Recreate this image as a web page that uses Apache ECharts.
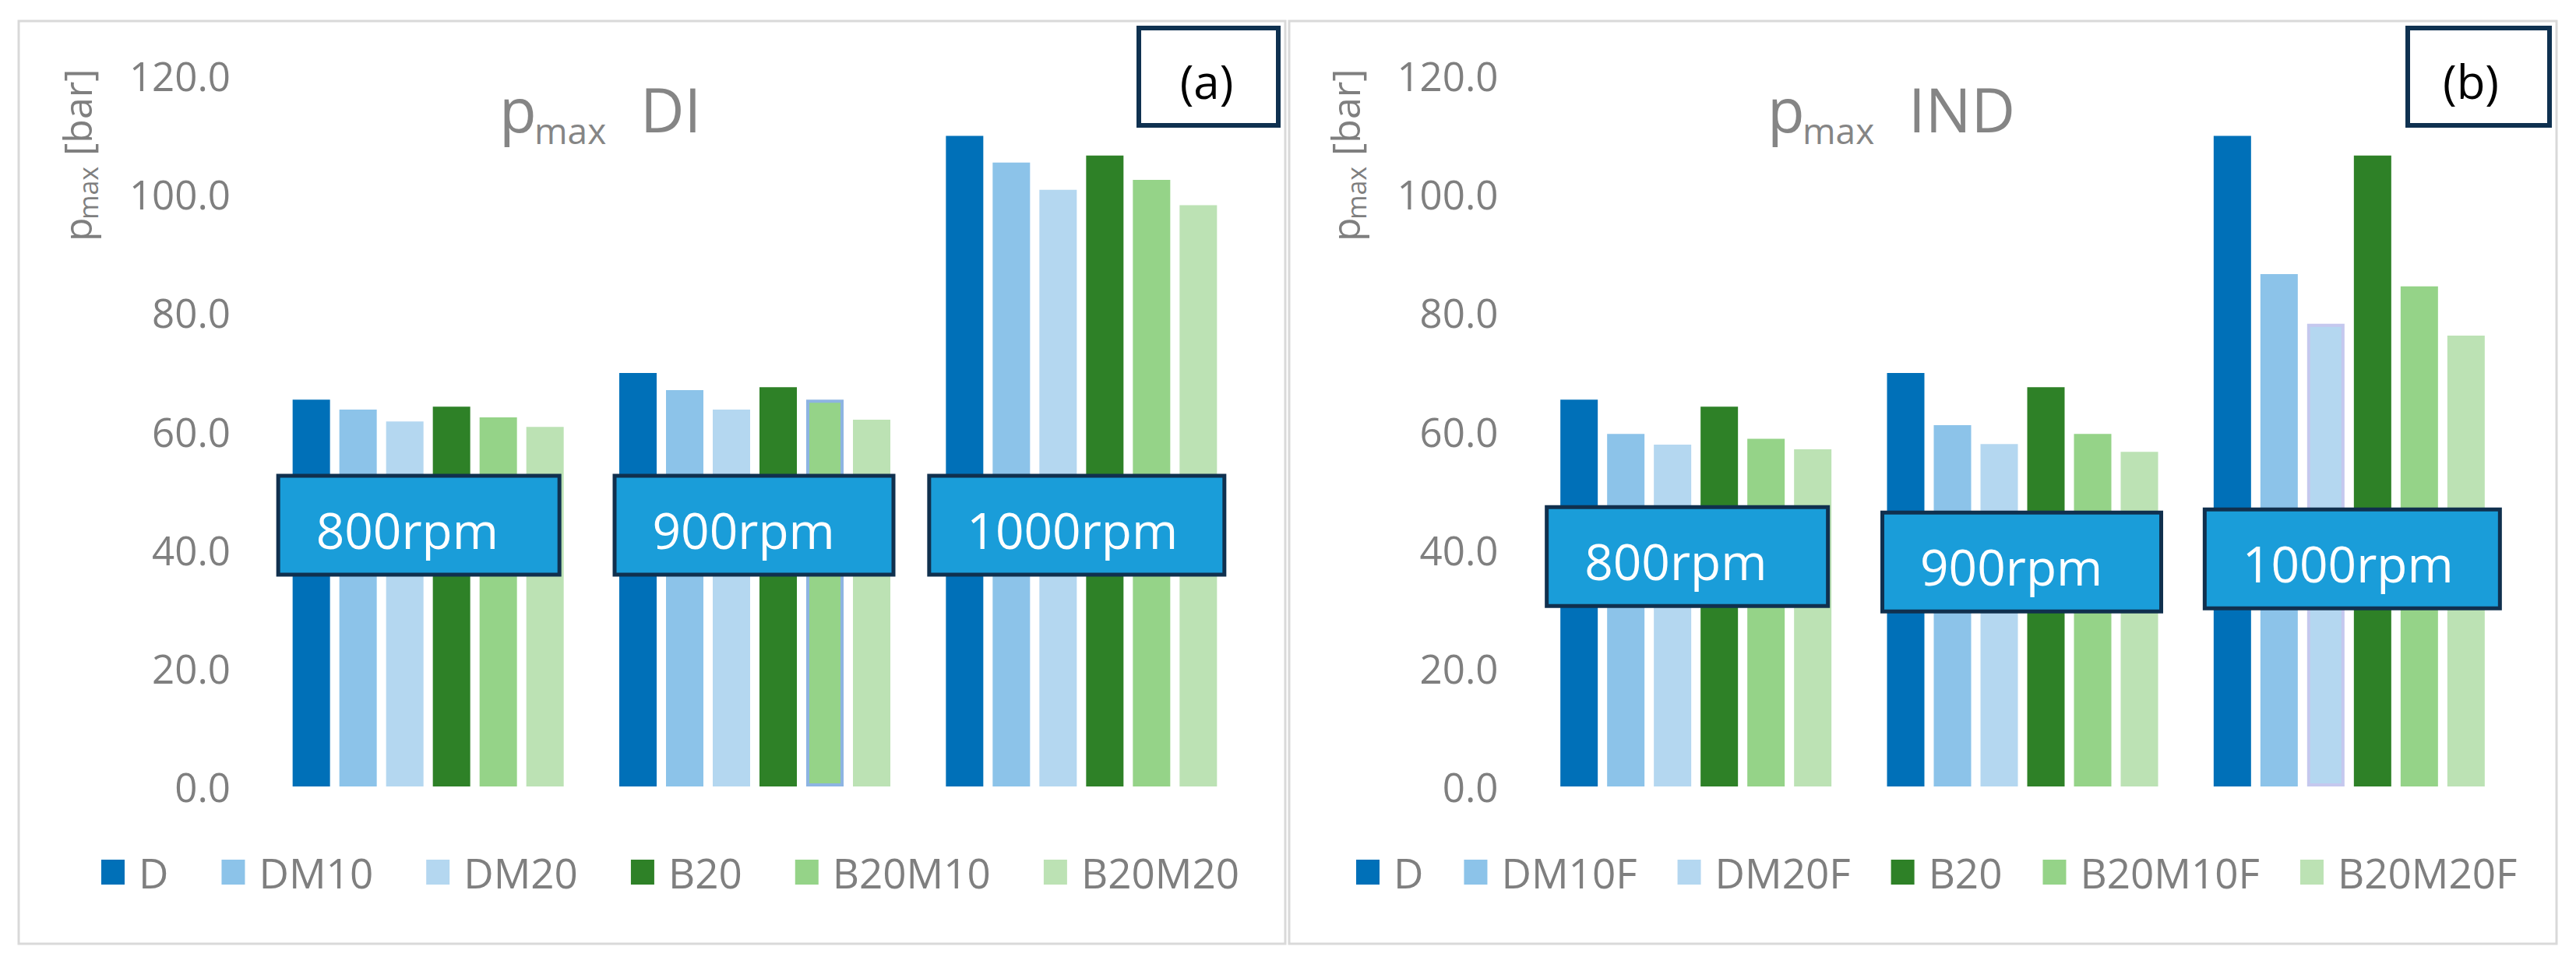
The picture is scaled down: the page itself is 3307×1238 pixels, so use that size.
<!DOCTYPE html>
<html>
<head>
<meta charset="utf-8">
<script src="https://cdn.jsdelivr.net/npm/echarts@6/dist/echarts.min.js"></script>
<style>
html,body{margin:0;padding:0;background:#fff;}
#chart{width:3307px;height:1238px;}
</style>
</head>
<body>
<div id="chart"></div>
<script>
// ---------- data ----------
const categories = ['800rpm', '900rpm', '1000rpm'];
const yTicks = [0, 20, 40, 60, 80, 100, 120];

const namesDI  = ['D', 'DM10', 'DM20', 'B20', 'B20M10', 'B20M20'];
const namesIND = ['D', 'DM10F', 'DM20F', 'B20', 'B20M10F', 'B20M20F'];

const DI_D      = [65.3, 69.8, 109.8];
const DI_DM10   = [63.6, 66.9, 105.3];
const DI_DM20   = [61.6, 63.6, 100.7];
const DI_B20    = [64.1, 67.4, 106.5];
const DI_B20M10 = [62.3, 65.3, 102.4];
const DI_B20M20 = [60.7, 61.9, 98.1];

const IND_D       = [65.3, 69.8, 109.8];
const IND_DM10F   = [59.5, 61.0, 86.5];
const IND_DM20F   = [57.7, 57.8, 78.1];
const IND_B20     = [64.1, 67.4, 106.5];
const IND_B20M10F = [58.7, 59.5, 84.4];
const IND_B20M20F = [56.9, 56.5, 76.1];

// level (in bar) at which the rpm annotation boxes sit
const rpmBoxDI  = [44.1, 44.1, 44.1];
const rpmBoxIND = [38.8, 37.9, 38.4];

// ---------- style ----------
const FONT = '"Open Sans", "Noto Sans", sans-serif';
const GRAY = '#7f7f7f';
const colors = ['#0070b8', '#8cc3e9', '#b4d7f0', '#2e8127', '#95d388', '#bce2b4'];
const boxW = [366, 363, 384];
const boxDxDI = [-12, -1, -6];
const boxDxIND = [-11, -1, 4];
const PANEL_DX = 1628;

const seriesDI = [DI_D, DI_DM10, DI_DM20, DI_B20, DI_B20M10, DI_B20M20];
const seriesIND = [IND_D, IND_DM10F, IND_DM20F, IND_B20, IND_B20M10F, IND_B20M20F];

function makeBars(names, vals, axis, outlined) {
  return names.map((n, k) => ({
    name: n,
    type: 'bar',
    xAxisIndex: axis, yAxisIndex: axis,
    barWidth: 48,
    barGap: '25%',
    itemStyle: { color: colors[k] },
    data: vals[k].map((v, i) => {
      if (outlined && outlined[0] === k && outlined[1] === i) {
        return { value: v, itemStyle: { borderColor: outlined[2], borderWidth: 4 } };
      }
      return v;
    }),
    z: 2
  }));
}

function rpmSeries(levels, axis, dxs) {
  return {
    type: 'custom',
    xAxisIndex: axis, yAxisIndex: axis,
    z: 10,
    clip: false,
    silent: true,
    data: levels.map((v, i) => [i, v]),
    renderItem: function (params, api) {
      const i = api.value(0);
      const p = api.coord([i, api.value(1)]);
      const w = boxW[i], h = 132;
      const cx = p[0] + dxs[i];
      const x0 = cx - w / 2, y0 = p[1] - h / 2;
      return {
        type: 'group',
        children: [
          { type: 'rect', shape: { x: x0 + 2.5, y: y0 + 2.5, width: w - 5, height: h - 5 },
            style: { fill: '#1a9dd9', stroke: '#10304e', lineWidth: 5 } },
          { type: 'text', x: x0 + 51, y: p[1] + 6,
            style: { text: categories[i], x: 0, y: 0,
              fill: '#ffffff', fontSize: 64, fontFamily: FONT, align: 'left', verticalAlign: 'middle' } }
        ]
      };
    }
  };
}

function xAxis(idx) {
  return { type: 'category', gridIndex: idx, data: categories,
    axisLabel: { show: false }, axisLine: { show: false }, axisTick: { show: false }, splitLine: { show: false } };
}
function yAxis(idx) {
  return { type: 'value', gridIndex: idx, min: yTicks[0], max: yTicks[yTicks.length - 1], interval: yTicks[1] - yTicks[0],
    axisLine: { show: false }, axisTick: { show: false }, splitLine: { show: false },
    axisLabel: { formatter: v => v.toFixed(1), fontSize: 51, color: GRAY, fontFamily: FONT, margin: 44 } };
}
function legend(names, left, gap) {
  return { data: names, left: left, top: 1085, orient: 'horizontal', icon: 'rect',
    itemWidth: 30, itemHeight: 32, itemGap: gap, selectedMode: false,
    textStyle: { fontSize: 53, color: GRAY, fontFamily: FONT, lineHeight: 60, padding: [0, 0, 0, 13] } };
}

function titleTexts(dx, main, sub, label) {
  return [
    { type: 'text', x: 641 + dx, y: 140, style: { text: main, fontSize: 78, fontFamily: FONT, fill: '#858585', align: 'left', verticalAlign: 'middle' } },
    { type: 'text', x: 686 + dx, y: 167, style: { text: sub, fontSize: 46, fontFamily: FONT, fill: '#858585', align: 'left', verticalAlign: 'middle' } },
    { type: 'text', x: 822 + dx, y: 140, style: { text: label, fontSize: 78, fontFamily: FONT, fill: '#858585', align: 'left', verticalAlign: 'middle' } }
  ];
}
function axisName(dx) {
  return {
    type: 'group', x: 99 + dx, y: 310, rotation: Math.PI / 2,
    children: [
      { type: 'text', x: 0, y: 0, style: { text: 'p', fontSize: 50, fontFamily: FONT, fill: GRAY, align: 'left', verticalAlign: 'middle' } },
      { type: 'text', x: 28, y: 14, style: { text: 'max', fontSize: 34, fontFamily: FONT, fill: GRAY, align: 'left', verticalAlign: 'middle' } },
      { type: 'text', x: 110, y: 0, style: { text: '[bar]', fontSize: 50, fontFamily: FONT, fill: GRAY, align: 'left', verticalAlign: 'middle' } }
    ]
  };
}

const graphics = [
  { type: 'rect', shape: { x: 24, y: 27, width: 1626, height: 1185 }, style: { fill: 'none', stroke: '#d9d9d9', lineWidth: 3 }, z: -10 },
  { type: 'rect', shape: { x: 1655, y: 27, width: 1627, height: 1185 }, style: { fill: 'none', stroke: '#d9d9d9', lineWidth: 3 }, z: -10 },
  { type: 'rect', shape: { x: 1462, y: 36, width: 179, height: 125 }, style: { fill: '#fff', stroke: '#0f3150', lineWidth: 6 } },
  { type: 'text', x: 1549, y: 104, style: { text: '(a)', fontSize: 60, fontFamily: FONT, fill: '#000', align: 'center', verticalAlign: 'middle' } },
  { type: 'rect', shape: { x: 3091, y: 36, width: 182, height: 125 }, style: { fill: '#fff', stroke: '#0f3150', lineWidth: 6 } },
  { type: 'text', x: 3172, y: 104, style: { text: '(b)', fontSize: 60, fontFamily: FONT, fill: '#000', align: 'center', verticalAlign: 'middle' } },
  ...titleTexts(0, 'p', 'max', 'DI'),
  ...titleTexts(PANEL_DX, 'p', 'max', 'IND'),
  axisName(0),
  axisName(PANEL_DX)
];

const chart = echarts.init(document.getElementById('chart'), null, { renderer: 'svg', width: 3307, height: 1238 });
chart.setOption({
  animation: false,
  backgroundColor: '#ffffff',
  grid: [
    { left: 340, width: 1258, top: 97, bottom: 228 },
    { left: 1967.5, width: 1258, top: 97, bottom: 228 }
  ],
  xAxis: [xAxis(0), xAxis(1)],
  yAxis: [yAxis(0), yAxis(1)],
  legend: [legend(namesDI, 125, 68), legend(namesIND, 1736, 52)],
  graphic: graphics,
  series: [
    ...makeBars(namesDI, seriesDI, 0, [4, 1, '#8db4e2']),
    ...makeBars(namesIND, seriesIND, 1, [2, 2, '#c5c8ee']),
    rpmSeries(rpmBoxDI, 0, boxDxDI),
    rpmSeries(rpmBoxIND, 1, boxDxIND)
  ]
});
</script>
</body>
</html>
